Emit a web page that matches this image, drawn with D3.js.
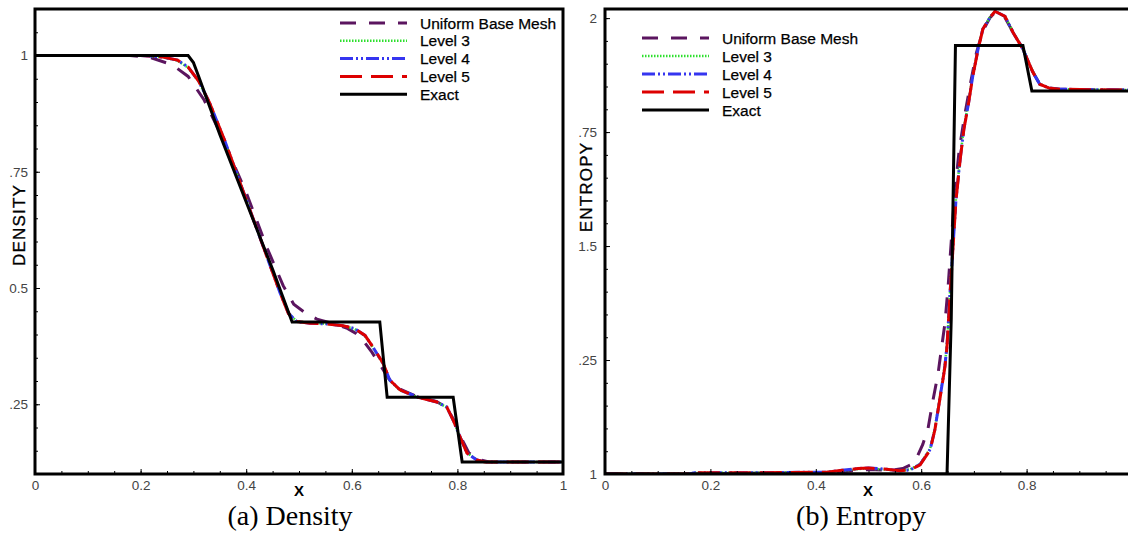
<!DOCTYPE html>
<html>
<head>
<meta charset="utf-8">
<script src="https://cdn.jsdelivr.net/npm/d3@7/dist/d3.min.js"></script>
<style>
  body { margin: 0; background: #fff; }
  svg { display: block; }
</style>
</head>
<body>
<svg id="chart" width="1128" height="533"></svg>
<script>
// ---- data ----
const seriesNames = ["Uniform Base Mesh", "Level 3", "Level 4", "Level 5", "Exact"];

const xTickValues = [0, 0.2, 0.4, 0.6, 0.8, 1];
const xTickLabels = ["0", "0.2", "0.4", "0.6", "0.8", "1"];
const densityTickValues = [0.25, 0.5, 0.75, 1];
const densityTickLabels = [".25", "0.5", ".75", "1"];
const entropyTickValues = [1, 1.25, 1.5, 1.75, 2];
const entropyTickLabels = ["1", ".25", "1.5", ".75", "2"];

// density, [x, value]
const densityUniform = [[0,1],[0.18,1],[0.22,0.995],[0.26,0.98],[0.29,0.955],[0.32,0.905],[0.35,0.835],[0.40,0.705],[0.44,0.585],[0.47,0.505],[0.49,0.465],[0.515,0.444],[0.534,0.433],[0.572,0.421],[0.59,0.414],[0.608,0.402],[0.621,0.388],[0.638,0.362],[0.655,0.332],[0.67,0.305],[0.69,0.283],[0.72,0.268],[0.76,0.256],[0.78,0.243],[0.795,0.212],[0.808,0.176],[0.822,0.145],[0.84,0.131],[0.86,0.126],[1,0.126]];
const densityL3 = [[0,1],[0.2,1],[0.24,0.997],[0.27,0.989],[0.29,0.974],[0.31,0.944],[0.33,0.899],[0.36,0.814],[0.40,0.69],[0.44,0.566],[0.464,0.491],[0.48,0.447],[0.495,0.429],[0.521,0.425],[0.55,0.423],[0.583,0.419],[0.605,0.412],[0.625,0.397],[0.64,0.372],[0.659,0.337],[0.672,0.301],[0.691,0.28],[0.723,0.266],[0.761,0.255],[0.78,0.243],[0.792,0.215],[0.805,0.179],[0.818,0.146],[0.837,0.13],[0.852,0.126],[1,0.126]];
const densityL4 = [[0,1],[0.2,1],[0.24,0.997],[0.27,0.99],[0.29,0.975],[0.31,0.945],[0.33,0.9],[0.36,0.815],[0.40,0.69],[0.44,0.565],[0.464,0.49],[0.48,0.446],[0.495,0.428],[0.521,0.424],[0.55,0.423],[0.583,0.419],[0.605,0.413],[0.625,0.398],[0.64,0.373],[0.659,0.338],[0.672,0.302],[0.691,0.281],[0.723,0.266],[0.761,0.255],[0.78,0.244],[0.792,0.216],[0.805,0.18],[0.818,0.145],[0.837,0.13],[0.852,0.126],[1,0.126]];
const densityL5 = [[0,1],[0.2,1],[0.24,0.997],[0.27,0.99],[0.29,0.975],[0.31,0.945],[0.33,0.9],[0.36,0.815],[0.40,0.69],[0.44,0.565],[0.464,0.49],[0.48,0.445],[0.495,0.428],[0.521,0.424],[0.55,0.423],[0.583,0.419],[0.605,0.413],[0.625,0.398],[0.64,0.373],[0.659,0.339],[0.672,0.302],[0.691,0.281],[0.723,0.266],[0.761,0.255],[0.78,0.244],[0.792,0.216],[0.805,0.18],[0.818,0.145],[0.837,0.13],[0.852,0.126],[1,0.126]];
const densityExact = [[0,1],[0.29,1],[0.30,0.985],[0.31,0.955],[0.35,0.83],[0.40,0.685],[0.45,0.54],[0.487,0.427],[0.653,0.427],[0.667,0.265],[0.792,0.265],[0.809,0.126],[1,0.126]];

// entropy, [x, value]
const entropyUniform = [[0,1],[0.2,1],[0.3,1.002],[0.42,1.003],[0.46,1.006],[0.5,1.01],[0.54,1.008],[0.565,1.012],[0.58,1.02],[0.592,1.037],[0.603,1.065],[0.613,1.10],[0.622,1.16],[0.632,1.22],[0.639,1.28],[0.645,1.33],[0.651,1.41],[0.657,1.51],[0.664,1.62],[0.672,1.71],[0.683,1.79],[0.694,1.86],[0.705,1.925],[0.717,1.972],[0.73,2.0],[0.74,2.013],[0.757,2.005],[0.773,1.972],[0.792,1.935],[0.81,1.886],[0.824,1.857],[0.843,1.847],[0.862,1.844],[1,1.842]];
const entropyL3 = [[0,1],[0.16,1],[0.17,1.003],[0.3,1.003],[0.42,1.004],[0.45,1.007],[0.48,1.011],[0.5,1.012],[0.53,1.01],[0.56,1.007],[0.579,1.01],[0.598,1.022],[0.617,1.056],[0.626,1.1],[0.632,1.143],[0.639,1.194],[0.645,1.24],[0.649,1.285],[0.652,1.345],[0.655,1.405],[0.66,1.495],[0.666,1.605],[0.674,1.694],[0.681,1.76],[0.689,1.81],[0.698,1.875],[0.708,1.934],[0.717,1.977],[0.731,2.003],[0.74,2.015],[0.759,2.004],[0.774,1.97],[0.793,1.933],[0.812,1.882],[0.825,1.856],[0.844,1.846],[0.863,1.844],[1,1.842]];
const entropyL4 = [[0,1],[0.16,1],[0.17,1.003],[0.3,1.003],[0.42,1.004],[0.45,1.008],[0.48,1.012],[0.5,1.013],[0.53,1.011],[0.56,1.007],[0.579,1.009],[0.598,1.021],[0.617,1.054],[0.626,1.098],[0.632,1.141],[0.639,1.192],[0.645,1.237],[0.649,1.282],[0.652,1.342],[0.655,1.402],[0.66,1.492],[0.666,1.602],[0.674,1.692],[0.681,1.758],[0.689,1.808],[0.698,1.874],[0.708,1.933],[0.717,1.976],[0.731,2.002],[0.74,2.015],[0.759,2.004],[0.774,1.969],[0.793,1.932],[0.812,1.881],[0.825,1.855],[0.844,1.846],[0.863,1.844],[1,1.842]];
const entropyL5 = [[0,1],[0.16,1],[0.17,1.003],[0.3,1.003],[0.42,1.004],[0.45,1.008],[0.48,1.012],[0.5,1.013],[0.53,1.011],[0.56,1.007],[0.579,1.009],[0.598,1.02],[0.617,1.053],[0.626,1.097],[0.632,1.14],[0.639,1.19],[0.645,1.235],[0.649,1.28],[0.652,1.34],[0.655,1.4],[0.66,1.49],[0.666,1.6],[0.674,1.69],[0.681,1.756],[0.689,1.807],[0.698,1.873],[0.708,1.932],[0.717,1.976],[0.731,2.002],[0.74,2.015],[0.759,2.004],[0.774,1.969],[0.793,1.932],[0.812,1.881],[0.825,1.855],[0.844,1.846],[0.863,1.844],[1,1.842]];
const entropyExact = [[0,1],[0.649,1],[0.657,1.34],[0.665,1.94],[0.793,1.94],[0.81,1.84],[1,1.84]];

// ---- styles ----
const seriesStyle = {
  "Uniform Base Mesh": { color: "#5b155f", width: 3, dash: "16,13" },
  "Level 3": { color: "#2ee02e", width: 2.5, dash: "1.5,1.5" },
  "Level 4": { color: "#3535f0", width: 3, dash: "13,3,2,3,2,3" },
  "Level 5": { color: "#dd0000", width: 3, dash: "22,9" },
  "Exact": { color: "#000000", width: 3, dash: null }
};

const svg = d3.select("#chart");

function drawPanel(opt) {
  const x = d3.scaleLinear().domain([0, 1]).range([opt.left, opt.right]);
  const y = d3.scaleLinear().domain(opt.yDomain).range([474, 9]);
  const g = svg.append("g");

  const clipId = "clip-" + opt.id;
  g.append("clipPath").attr("id", clipId)
    .append("rect")
    .attr("x", opt.left).attr("y", 9)
    .attr("width", opt.right - opt.left).attr("height", 465);

  const line = d3.line().x(d => x(d[0])).y(d => y(d[1]));

  const curves = g.append("g").attr("clip-path", `url(#${clipId})`);
  opt.series.forEach((s, i) => {
    const st = seriesStyle[seriesNames[i]];
    curves.append("path")
      .datum(s)
      .attr("d", line)
      .attr("fill", "none")
      .attr("stroke", st.color)
      .attr("stroke-width", st.width)
      .attr("stroke-dasharray", st.dash);
  });

  // minor ticks
  const xMinor = d3.range(0, 1.0001, 0.05);
  const yMinor = d3.range(opt.yDomain[0], opt.yDomain[1], 0.05)
    .map(v => Math.round(v * 100) / 100)
    .filter(v => v >= opt.yDomain[0]);

  g.append("g").attr("transform", "translate(0,474)")
    .call(d3.axisBottom(x).tickValues(xMinor).tickSize(-3).tickFormat(""))
    .call(a => a.select(".domain").remove())
    .selectAll("line").attr("stroke", "#000");
  g.append("g").attr("transform", `translate(${opt.left},0)`)
    .call(d3.axisLeft(y).tickValues(yMinor).tickSize(-3).tickFormat(""))
    .call(a => a.select(".domain").remove())
    .selectAll("line").attr("stroke", "#000");

  // major ticks + labels
  const xAxis = g.append("g").attr("transform", "translate(0,474)")
    .call(d3.axisBottom(x).tickValues(opt.xTicks)
      .tickSize(-5).tickPadding(6)
      .tickFormat((d, i) => opt.xLabels[i]));
  xAxis.select(".domain").remove();
  const yAxis = g.append("g").attr("transform", `translate(${opt.left},0)`)
    .call(d3.axisLeft(y).tickValues(opt.yTicks)
      .tickSize(-5).tickPadding(opt.yPad)
      .tickFormat((d, i) => opt.yLabels[i]));
  yAxis.select(".domain").remove();
  g.selectAll(".tick text")
    .attr("font-family", "'Liberation Sans', Arial, sans-serif")
    .attr("font-size", 13.5)
    .attr("fill", "#444");

  // frame
  g.append("rect")
    .attr("x", opt.left).attr("y", 9)
    .attr("width", opt.right - opt.left).attr("height", 465)
    .attr("fill", "none").attr("stroke", "#000").attr("stroke-width", 3);

  // axis titles
  g.append("text")
    .attr("transform", `translate(${opt.yTitleX},${opt.yTitleY}) rotate(-90)`)
    .attr("text-anchor", "middle")
    .attr("dominant-baseline", "central")
    .attr("font-family", "'Liberation Sans', Arial, sans-serif")
    .attr("font-size", 17)
    .attr("letter-spacing", 1.2)
    .attr("stroke", "#000").attr("stroke-width", 0.3)
    .text(opt.yTitle);
  g.append("text")
    .attr("x", opt.xTitleX).attr("y", 496)
    .attr("text-anchor", "middle")
    .attr("font-family", "'Liberation Sans', Arial, sans-serif")
    .attr("font-size", 15)
    .attr("font-weight", "bold")
    .text("X");

  // legend
  const leg = g.append("g");
  seriesNames.forEach((name, i) => {
    const st = seriesStyle[name];
    const yy = opt.legY + i * opt.legStep;
    leg.append("line")
      .attr("x1", opt.legX).attr("x2", opt.legX + 67)
      .attr("y1", yy).attr("y2", yy)
      .attr("stroke", st.color)
      .attr("stroke-width", st.width)
      .attr("stroke-dasharray", st.dash);
    leg.append("text")
      .attr("x", opt.legX + 80).attr("y", yy)
      .attr("dominant-baseline", "central")
      .attr("font-family", "'Liberation Sans', Arial, sans-serif")
      .attr("font-size", 15.5)
      .attr("stroke", "#000").attr("stroke-width", 0.25)
      .text(name);
  });

  // caption
  g.append("text")
    .attr("x", opt.capX).attr("y", 525)
    .attr("text-anchor", "middle")
    .attr("font-family", "'Liberation Serif', 'Times New Roman', serif")
    .attr("font-size", 28)
    .text(opt.caption);
}

drawPanel({
  id: "density", left: 35, right: 563, yDomain: [0.1, 1.1],
  series: [densityUniform, densityL3, densityL4, densityL5, densityExact],
  xTicks: xTickValues, xLabels: xTickLabels,
  yTicks: densityTickValues, yLabels: densityTickLabels, yPad: 7,
  yTitle: "DENSITY", yTitleX: 19, yTitleY: 225, xTitleX: 299,
  legX: 340, legY: 23, legStep: 17.8,
  caption: "(a)  Density", capX: 290
});

drawPanel({
  id: "entropy", left: 605, right: 1132, yDomain: [1, 2.02],
  series: [entropyUniform, entropyL3, entropyL4, entropyL5, entropyExact],
  xTicks: xTickValues.slice(0, 5), xLabels: xTickLabels.slice(0, 5),
  yTicks: entropyTickValues, yLabels: entropyTickLabels, yPad: 8,
  yTitle: "ENTROPY", yTitleX: 586, yTitleY: 187, xTitleX: 868,
  legX: 642, legY: 38, legStep: 18,
  caption: "(b)  Entropy", capX: 861
});
</script>
</body>
</html>
